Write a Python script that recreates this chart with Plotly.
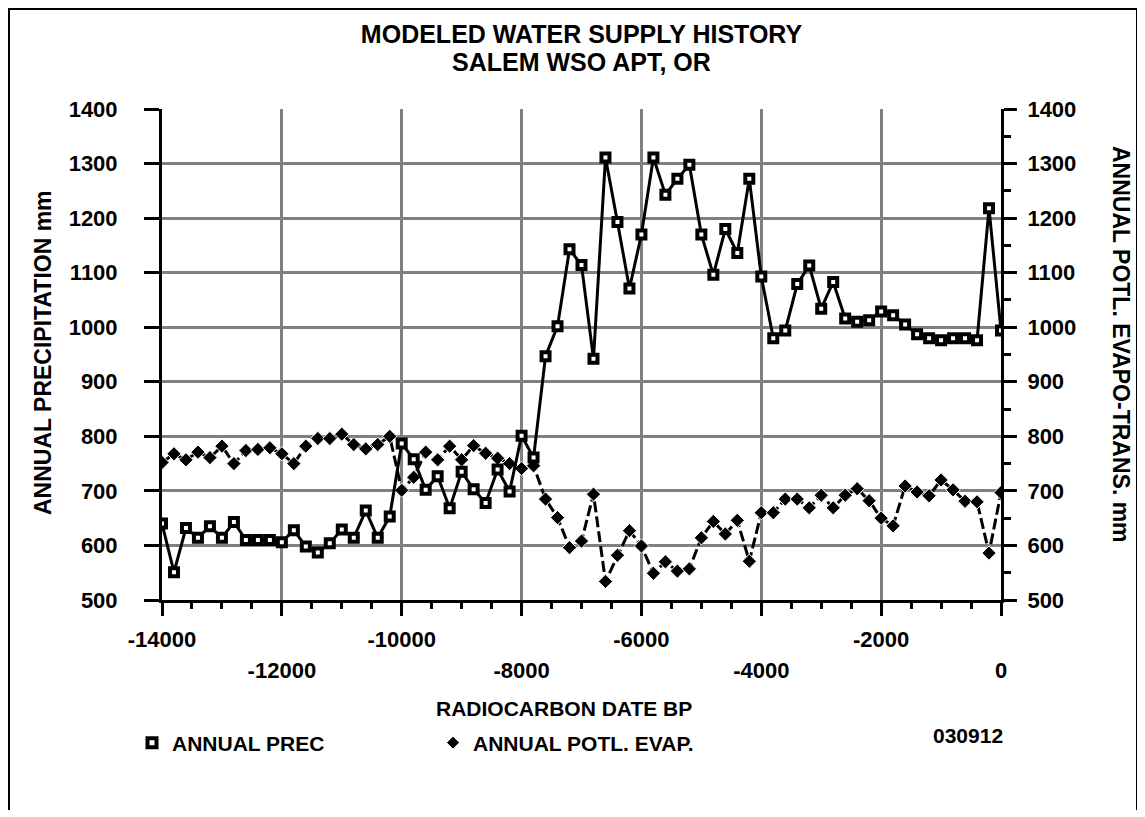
import plotly.graph_objects as go

# ---------------- data ----------------
years = list(range(-14000, 1, 200))

annual_prec = [
    640, 551, 632, 614, 635, 614, 643, 610, 610, 610,
    606, 628, 598, 587, 604, 629, 614, 664, 614, 653,
    787, 758, 702, 727, 668, 735, 703, 678, 739, 699,
    801, 761, 947, 1002, 1143, 1114, 942, 1311, 1193, 1071,
    1170, 1311, 1243, 1272, 1298, 1170, 1096, 1180, 1136, 1272,
    1093, 980, 994, 1079, 1113, 1034, 1083, 1016, 1010, 1013,
    1029, 1022, 1005, 987, 980, 976, 980, 980, 976, 1218,
    994,
]

annual_pet = [
    752, 768, 757, 771, 761, 782, 750, 774, 776, 779,
    768, 750, 782, 796, 796, 804, 785, 777, 785, 800,
    701, 725, 771, 757, 782, 757, 783, 769, 760, 750,
    741, 746, 685, 651, 596, 608, 694, 534, 582, 627,
    599, 549, 570, 553, 557, 614, 644, 621, 646, 571,
    660, 660, 685, 685, 669, 692, 669, 692, 704, 682,
    650, 636, 709, 698, 691, 720, 702, 681, 680, 586,
    697,
]

x_ticks_row1 = [-14000, -10000, -6000, -2000]
x_ticks_row2 = [-12000, -8000, -4000, 0]
y_ticks = list(range(500, 1401, 100))

title_line1 = "MODELED WATER SUPPLY HISTORY"
title_line2 = "SALEM WSO APT, OR"
x_title = "RADIOCARBON DATE BP"
y_title_left = "ANNUAL PRECIPITATION mm"
y_title_right = "ANNUAL POTL. EVAPO-TRANS. mm"
series_names = ["ANNUAL PREC", "ANNUAL POTL. EVAP."]
code_label = "030912"

# ---------------- layout geometry ----------------
# page offset of the figure inside the browser window
OX, OY = 7, 7
W, H = 1130, 802
# plot area in window pixels
L_s, R_s, T_s, B_s = 161, 1000, 108, 599
L, R, T, B = L_s - OX, R_s - OX, T_s - OY, B_s - OY
PW, PH = R - L, B - T


def sx(x_screen):
    return (x_screen - OX - L) / PW


def sy(y_screen):
    return (B - (y_screen - OY)) / PH


FONT = "Liberation Sans, Arial, sans-serif"
GRID = "#808080"

fig = go.Figure()

# PET (dashed, filled diamonds)
fig.add_trace(go.Scatter(
    x=years, y=annual_pet, mode="lines+markers", showlegend=False,
    line=dict(color="black", width=3, dash="11px,4px"),
    marker=dict(symbol="diamond", size=11, color="black",
                line=dict(color="white", width=1)),
))
# Precipitation (solid, open squares)
fig.add_trace(go.Scatter(
    x=years, y=annual_prec, mode="lines+markers", showlegend=False,
    line=dict(color="black", width=3),
    marker=dict(symbol="square", size=8, color="white",
                line=dict(color="black", width=4)),
))

# legend entries (markers only)
fig.add_trace(go.Scatter(
    x=[None], y=[None], mode="markers", name=series_names[0],
    marker=dict(symbol="square", size=9, color="white",
                line=dict(color="black", width=4)),
))
fig.add_trace(go.Scatter(
    x=[None], y=[None], mode="markers", name=series_names[1],
    marker=dict(symbol="diamond", size=10, color="black",
                line=dict(color="white", width=1)),
))
# empty traces so the secondary axes get drawn
fig.add_trace(go.Scatter(x=[None], y=[None], xaxis="x", yaxis="y2",
                         showlegend=False, hoverinfo="skip"))
fig.add_trace(go.Scatter(x=[None], y=[None], xaxis="x2", yaxis="y",
                         showlegend=False, hoverinfo="skip"))

tickfont = dict(family=FONT, size=22, color="black", weight="bold")

all_x = sorted(x_ticks_row1 + x_ticks_row2)
fig.update_layout(
    width=W, height=H,
    margin=dict(l=L, r=W - R, t=T, b=H - B, pad=0),
    paper_bgcolor="white", plot_bgcolor="white",
    font=dict(family=FONT, color="black"),
    title=dict(text=title_line1, x=0.5, xref="paper", xanchor="center",
               y=1 - (33 - OY) / H, yref="container", yanchor="middle",
               font=dict(family=FONT, size=25, color="black", weight="bold")),
    xaxis=dict(
        range=[-14000, 0], tickvals=all_x,
        ticktext=[str(v) if v in x_ticks_row1 else "" for v in all_x],
        ticks="outside", ticklen=13, tickwidth=3, tickcolor="black",
        showline=True, linewidth=3, linecolor="black",
        showgrid=True, gridcolor=GRID, gridwidth=3, zeroline=False,
        tickfont=tickfont, ticklabelstandoff=5,
        minor=dict(dtick=500, tick0=-14000, ticks="outside", ticklen=6,
                   tickwidth=3, tickcolor="black", showgrid=False),
    ),
    xaxis2=dict(
        range=[-14000, 0], overlaying="x", anchor="y", side="bottom",
        tickvals=x_ticks_row2, ticktext=[str(v) for v in x_ticks_row2],
        ticks="outside", ticklen=13, tickcolor="rgba(0,0,0,0)",
        showline=False, showgrid=False, zeroline=False,
        tickfont=tickfont, ticklabelstandoff=38,
    ),
    yaxis=dict(
        range=[500, 1400], tickvals=y_ticks,
        ticks="outside", ticklen=15, tickwidth=3, tickcolor="black",
        showline=True, linewidth=3, linecolor="black",
        showgrid=True, gridcolor=GRID, gridwidth=3, zeroline=False,
        tickfont=tickfont, ticklabelstandoff=22,
    ),
    yaxis2=dict(
        range=[500, 1400], overlaying="y", side="right", anchor="x",
        tickvals=y_ticks,
        ticks="outside", ticklen=13, tickwidth=3, tickcolor="black",
        showline=True, linewidth=3, linecolor="black",
        showgrid=False, zeroline=False,
        tickfont=tickfont, ticklabelstandoff=6,
        minor=dict(dtick=50, tick0=500, ticks="outside", ticklen=7,
                   tickwidth=3, tickcolor="black", showgrid=False),
    ),
    legend=dict(
        orientation="h", x=sx(131), xanchor="left", y=sy(742), yanchor="middle",
        font=dict(family=FONT, size=21, color="black", weight="bold"),
        entrywidth=256, bgcolor="rgba(0,0,0,0)", borderwidth=0,
        itemclick=False, itemdoubleclick=False,
    ),
    showlegend=True,
)

annot_font = dict(family=FONT, size=21, color="black", weight="bold")
fig.add_annotation(text=title_line2, xref="paper", yref="paper",
                   x=0.5, y=sy(61), xanchor="center", yanchor="middle",
                   showarrow=False,
                   font=dict(family=FONT, size=25, color="black", weight="bold"))
fig.add_annotation(text=x_title, xref="paper", yref="paper",
                   x=sx(563), y=sy(707), xanchor="center", yanchor="middle",
                   showarrow=False, font=annot_font)
fig.add_annotation(text=y_title_left, xref="paper", yref="paper",
                   x=sx(42), y=sy(352), xanchor="center", yanchor="middle",
                   textangle=-90, showarrow=False,
                   font=dict(family=FONT, size=23, color="black", weight="bold"))
fig.add_annotation(text=y_title_right, xref="paper", yref="paper",
                   x=sx(1120), y=sy(343), xanchor="center", yanchor="middle",
                   textangle=90, showarrow=False,
                   font=dict(family=FONT, size=23, color="black", weight="bold"))
fig.add_annotation(text=code_label, xref="paper", yref="paper",
                   x=sx(1004), y=sy(734), xanchor="right", yanchor="middle",
                   showarrow=False, font=annot_font)

# outer frame
fig.add_shape(type="rect", xref="paper", yref="paper",
              x0=(1 - L) / PW, x1=(W - 1 - L) / PW,
              y0=(B - (H + 20)) / PH, y1=(B - 1) / PH,
              line=dict(color="black", width=2), fillcolor="rgba(0,0,0,0)",
              layer="below")

fig.write_html("out.html")
